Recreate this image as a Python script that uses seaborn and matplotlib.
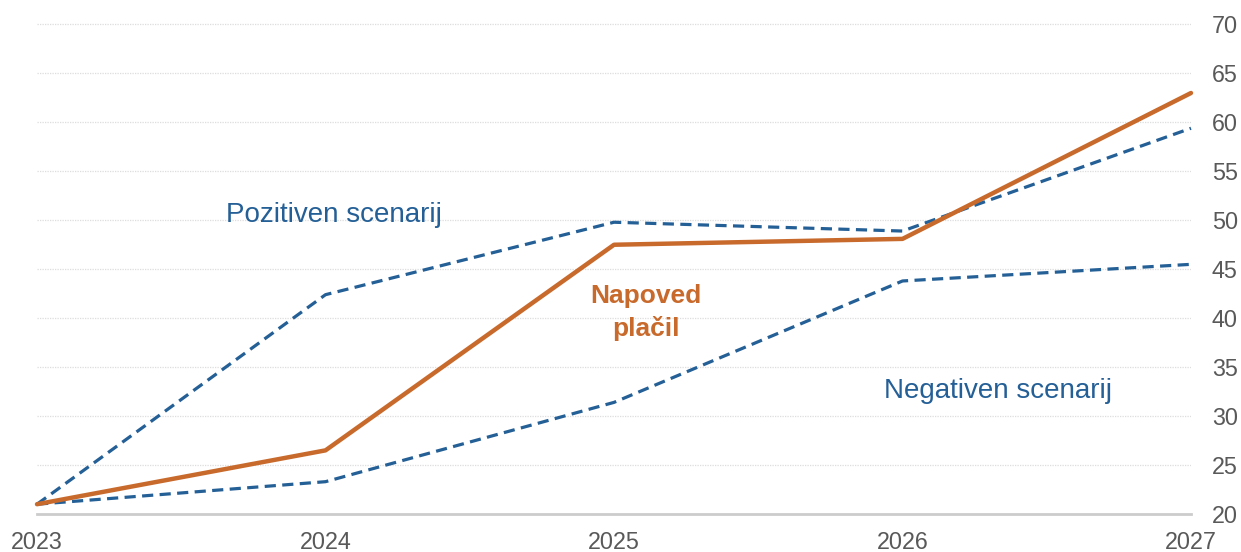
import pandas as pd
import numpy as np
import matplotlib
matplotlib.use('Agg')
import matplotlib.pyplot as plt
import seaborn as sns

years = [2023, 2024, 2025, 2026, 2027]
napoved = [21.0, 26.5, 47.5, 48.1, 63.0]
pozitiven = [21.0, 42.4, 49.8, 48.9, 59.4]
negativen = [21.0, 23.3, 31.4, 43.8, 45.5]
y_ticks = [20, 25, 30, 35, 40, 45, 50, 55, 60, 65, 70]

orange = '#C86A2C'
blue = '#245F96'

sns.set_theme(style='white')
plt.rcParams['font.family'] = ['Liberation Sans', 'DejaVu Sans']

fig = plt.figure(figsize=(12.41, 5.52), dpi=100)
# a hair above 70 so the top gridline is not clipped away
ax = fig.add_axes([37 / 1241, 38 / 552, 1154 / 1241, 491.5 / 552])

df = pd.DataFrame({'leto': years, 'napoved': napoved,
                   'pozitiven': pozitiven, 'negativen': negativen})

for col in ['pozitiven', 'negativen']:
    sns.lineplot(data=df, x='leto', y=col, ax=ax, color=blue, lw=2.3,
                 dashes=False, clip_on=False)
    ax.lines[-1].set_dashes((3.5, 2))
sns.lineplot(data=df, x='leto', y='napoved', ax=ax, color=orange, lw=3.2,
             clip_on=False)

ax.set_xlim(2023, 2027)
ax.set_ylim(20, 70.2)
ax.set_xticks(years)
ax.set_xticklabels([str(y) for y in years])
ax.set_yticks(y_ticks)
ax.yaxis.tick_right()
ax.tick_params(axis='y', length=0, pad=15, labelsize=16.8, labelcolor='#595959')
ax.tick_params(axis='x', length=0, pad=12, labelsize=16.8, labelcolor='#595959')
ax.set_xlabel('')
ax.set_ylabel('')

ax.grid(axis='y', color='#dddddd', lw=0.9, ls=(0, (1, 1)))
ax.grid(axis='x', visible=False)
for s in ['top', 'left', 'right']:
    ax.spines[s].set_visible(False)
ax.spines['bottom'].set_color('#cccccc')
ax.spines['bottom'].set_linewidth(2)

ax.text(2024.03, 50.5, 'Pozitiven scenarij', color=blue, fontsize=20,
        ha='center', va='center')
ax.text(2026.33, 32.6, 'Negativen scenarij', color=blue, fontsize=20,
        ha='center', va='center')
ax.text(2025.11, 40.6, 'Napoved\nplačil', color=orange, fontsize=19,
        fontweight='bold', ha='center', va='center', linespacing=1.4)

fig.savefig('out.png', dpi=100)
